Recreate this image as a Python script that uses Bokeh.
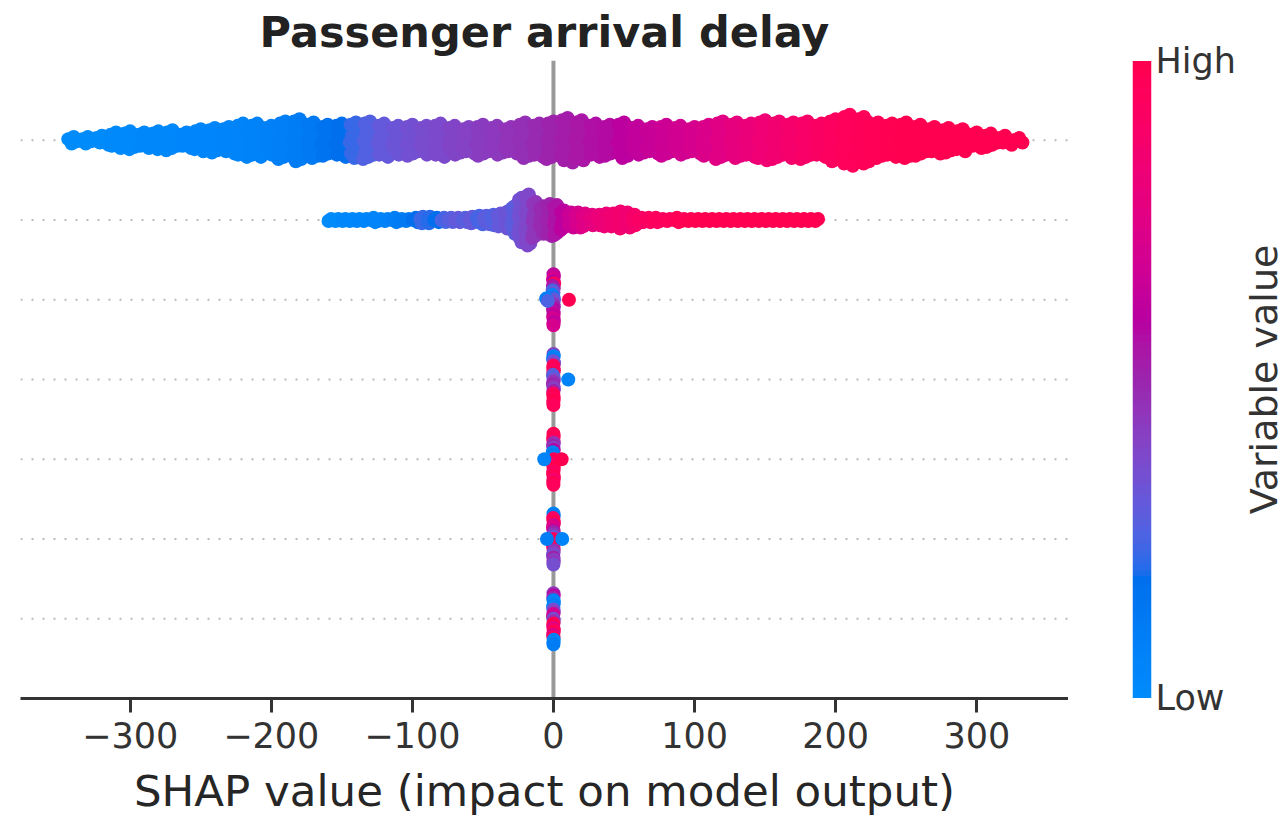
import numpy as np
from bokeh.plotting import figure
from bokeh.layouts import row
from bokeh.models import (ColumnDataSource, Range1d, Span, LinearColorMapper, FixedTicker)
from bokeh.embed import file_html
from bokeh.resources import INLINE

# ---------------- data ----------------
TITLE = "Passenger arrival delay"
X_LABEL = "SHAP value (impact on model output)"
CBAR_LABEL = "Variable value"
CBAR_TICK_LABELS = ["Low", "High"]
X_TICKS = [-300, -200, -100, 0, 100, 200, 300]

# Row 1 (top): counts of points per SHAP-value bin and mean feature value (0=low, 1=high)
row1_bin_start = -345
row1_bin_width = 10
row1_counts = [4, 4, 5, 8, 9, 8, 9, 10, 8, 11,
               12, 13, 16, 16, 14,
               18, 20, 17, 15, 16,
               17, 18, 16, 14, 15,
               14, 16, 14, 13, 15,
               14, 13, 17, 16, 18,
               21, 19, 16, 15, 17,
               14, 13, 15, 14, 13,
               15, 18, 17, 16, 19,
               18, 17, 18, 16, 20,
               24, 22, 17, 16, 17,
               15, 13, 12, 11, 8, 7, 5, 3]
row1_colors = [0.0, 0.0, 0.0, 0.01, 0.01, 0.02, 0.02, 0.02, 0.03, 0.03,
               0.03, 0.04, 0.05, 0.06, 0.07,
               0.08, 0.10, 0.12, 0.15, 0.18,
               0.22, 0.26, 0.30, 0.32, 0.34,
               0.36, 0.37, 0.39, 0.40, 0.42,
               0.43, 0.45, 0.46, 0.48, 0.50,
               0.52, 0.54, 0.56, 0.58, 0.60,
               0.62, 0.64, 0.66, 0.68, 0.70,
               0.72, 0.75, 0.78, 0.80, 0.83,
               0.85, 0.87, 0.89, 0.91, 0.93,
               0.95, 0.96, 0.97, 0.98, 0.99,
               1.0, 1.0, 1.0, 1.0, 1.0, 1.0, 1.0, 1.0]

# Row 2
row2_bin_start = -160
row2_bin_width = 5
row2_counts = [2, 2, 2, 2, 2, 2, 3, 2, 2, 3, 2, 2,
               3, 4, 4, 3, 3, 3,
               3, 3, 4, 5, 5, 6,
               7, 9,
               14, 22, 25, 18, 14, 16, 15, 10,
               8, 8,
               7, 6, 6, 7, 7,
               9, 8, 6,
               3, 3, 3, 2, 2, 3, 2, 2,
               2, 2, 2, 2, 2, 2, 2, 2, 2, 2, 2, 2, 2, 2, 2, 2, 2, 2]
row2_colors = [0.0, 0.0, 0.02, 0.02, 0.03, 0.03, 0.04, 0.05, 0.06, 0.08, 0.10, 0.12,
               0.18, 0.22, 0.20, 0.18, 0.24, 0.27,
               0.30, 0.27, 0.30, 0.24, 0.28, 0.26,
               0.30, 0.32,
               0.28, 0.34, 0.38, 0.44, 0.48, 0.50, 0.55, 0.60,
               0.65, 0.70,
               0.74, 0.77, 0.80, 0.82, 0.84,
               0.86, 0.84, 0.88,
               0.90, 0.92, 0.93, 0.94, 0.95, 0.96, 0.97, 0.98,
               0.99, 0.99, 1.0, 1.0, 1.0, 1.0, 1.0, 1.0, 1.0, 1.0, 1.0, 1.0, 1.0, 1.0, 1.0, 1.0, 1.0, 1.0]

# Rows 3-7: individual points (main column listed top to bottom, then outliers)
row3_x = [0.0, 0.3, -0.3, 0.0, 0.5, -0.4, 0.2, -0.6, 0.0, -0.8, 0.0, 0.4, -0.2,
          0.0, 0.3, -0.3, 0.0, 0.2, -0.2, 0.0, 0.3, 0.0, 0.0, 11.0, -5.2, -4.0]
row3_c = [0.60, 0.65, 0.70, 0.60, 0.95, 0.55, 0.50, 0.25, 0.30, 0.05, 0.20, 0.30, 0.35,
          0.45, 0.50, 0.60, 0.55, 0.65, 0.60, 0.70, 0.65, 0.60, 0.70, 1.0, 0.08, 0.25]

row4_x = [0.0, 0.2, -0.3, 0.0, 0.4, 0.0, -0.2, 0.3, 0.0, -0.4, 0.0, 0.2, 0.0,
          -0.3, 0.0, 0.3, 0.0, -0.2, 0.0, 0.2, 0.0, -0.1, 0.0, 10.5]
row4_c = [0.40, 0.05, 0.10, 0.30, 0.35, 0.95, 1.0, 0.90, 1.0, 0.30, 0.25, 0.35, 0.45,
          0.50, 0.45, 0.40, 0.50, 0.90, 1.0, 0.95, 1.0, 1.0, 0.95, 0.05]

row5_x = [0.0, 0.2, -0.2, 0.0, 0.3, -0.3, 0.0, 0.2, -0.5, 0.0, 0.0, 0.3, 0.0,
          -0.2, 0.0, 0.2, 0.0, -0.2, 0.0, 0.3, 0.0, -0.1, 0.0, -6.5, 5.8]
row5_c = [1.0, 0.95, 1.0, 0.90, 0.45, 0.50, 0.40, 0.60, 0.05, 0.10, 0.05, 0.95, 1.0,
          0.90, 0.95, 1.0, 0.95, 0.90, 1.0, 0.95, 0.85, 1.0, 0.95, 0.05, 1.0]

row6_x = [0.0, 0.2, -0.2, 0.0, 0.3, 0.0, -0.3, 0.0, 0.2, 0.0, -0.2, 0.0, 0.3,
          0.0, -0.2, 0.0, 0.2, 0.0, -0.3, 0.0, 0.2, 0.0, 0.0, 6.2, -4.6]
row6_c = [0.05, 0.10, 0.90, 0.95, 1.0, 0.70, 0.75, 0.65, 0.50, 0.45, 0.30, 0.95, 1.0,
          0.90, 1.0, 0.95, 0.45, 0.40, 0.35, 0.50, 0.40, 0.45, 0.35, 0.05, 0.10]

row7_x = [0.0, 0.2, -0.2, 0.0, 0.3, 0.0, -0.2, 0.0, 0.2, 0.0, -0.3, 0.0, 0.2,
          0.0, -0.2, 0.0, 0.3, 0.0, -0.2, 0.0, 0.2, 0.0, 0.0]
row7_c = [0.45, 0.60, 0.50, 0.05, 0.05, 0.10, 0.05, 0.35, 0.40, 0.70, 0.65, 0.35, 0.45,
          0.95, 1.0, 0.75, 0.90, 1.0, 0.70, 0.95, 0.05, 0.05, 0.10]
small_rows_bin_width = 2.5

# ---------------- colormap (SHAP red_blue, LCH interpolation) ----------------
def lch_to_hex(L, C, H):
    a = C * np.cos(H)
    b = C * np.sin(H)
    fy = (L + 16.0) / 116.0
    fx = fy + a / 500.0
    fz = fy - b / 200.0
    d = 6.0 / 29.0
    finv = lambda t: np.where(t > d, t ** 3, 3 * d * d * (t - 4.0 / 29.0))
    X = 0.95047 * finv(fx)
    Y = 1.0 * finv(fy)
    Z = 1.08883 * finv(fz)
    r = 3.2406 * X - 1.5372 * Y - 0.4986 * Z
    g = -0.9689 * X + 1.8758 * Y + 0.0415 * Z
    bb = 0.0557 * X - 0.2040 * Y + 1.0570 * Z
    out = []
    for ch in (r, g, bb):
        ch = np.clip(ch, 0, 1)
        ch = np.where(ch > 0.0031308, 1.055 * ch ** (1 / 2.4) - 0.055, 12.92 * ch)
        out.append(int(round(float(np.clip(ch, 0, 1)) * 255)))
    return "#%02x%02x%02x" % tuple(out)

blue_lch = [54.0, 70.0, 4.6588]
red_lch = [54.0, 90.0, 0.35470565 + 2 * np.pi]
l_mid = 40.0
nsteps = 100
l_vals = list(np.linspace(blue_lch[0], l_mid, nsteps // 2)) + list(np.linspace(l_mid, red_lch[0], nsteps // 2))
c_vals = np.linspace(blue_lch[1], red_lch[1], nsteps)
h_vals = np.linspace(blue_lch[2], red_lch[2], nsteps)
palette = [lch_to_hex(l, c, h) for l, c, h in zip(l_vals, c_vals, h_vals)]
mapper = LinearColorMapper(palette=palette, low=0, high=1)

# ---------------- beeswarm layout ----------------
def hist_points(start, width, counts, colors):
    xs, cs, bins = [], [], []
    for i, (n, c) in enumerate(zip(counts, colors)):
        left = start + i * width
        for j in range(n):
            xs.append(left + ((0.5 + j * 0.618034) % 1.0) * width)
            cs.append(c)
            bins.append(i)
    return xs, cs, bins

def list_points(xs, cs, width):
    return list(xs), list(cs), [int(round(x / width)) for x in xs]

def swarm_y(bins, row_y, spread=0.32):
    bins = np.asarray(bins)
    offs = np.zeros(len(bins))
    half_max = 0.0
    for b in np.unique(bins):
        idx = np.where(bins == b)[0]
        n = len(idx)
        offs[idx] = (n - 1) / 2.0 - np.arange(n)
        half_max = max(half_max, (n - 1) / 2.0)
    scale = spread / half_max if half_max > 0 else 0.0
    return list(row_y + offs * scale)

rows = [
    hist_points(row1_bin_start, row1_bin_width, row1_counts, row1_colors),
    hist_points(row2_bin_start, row2_bin_width, row2_counts, row2_colors),
    list_points(row3_x, row3_c, small_rows_bin_width),
    list_points(row4_x, row4_c, small_rows_bin_width),
    list_points(row5_x, row5_c, small_rows_bin_width),
    list_points(row6_x, row6_c, small_rows_bin_width),
    list_points(row7_x, row7_c, small_rows_bin_width),
]
n_rows = len(rows)
all_x, all_y, all_c = [], [], []
for k, (xs, cs, bins) in enumerate(rows):
    ry = n_rows - 1 - k
    all_x += xs
    all_c += cs
    all_y += swarm_y(bins, ry)

source = ColumnDataSource(dict(x=all_x, y=all_y, c=all_c))

# ---------------- main figure ----------------
FONT = "DejaVu Sans"
TOP, FRAME_H, BOTTOM = 60, 638, 119
p = figure(frame_width=1048, frame_height=FRAME_H,
           x_range=Range1d(-377.7, 365.0), y_range=Range1d(-1, n_rows),
           output_backend="svg", toolbar_location=None, y_axis_location=None,
           min_border_left=20, min_border_right=0, min_border_top=TOP, min_border_bottom=BOTTOM,
           background_fill_color="white", border_fill_color="white")
p.outline_line_color = None
p.xgrid.visible = False
p.ygrid.visible = False

p.title.text = TITLE
p.title.align = "center"
p.title.text_font = FONT
p.title.text_font_size = "43px"
p.title.text_font_style = "bold"
p.title.text_color = "#222222"
p.title.standoff = 8

for k in range(n_rows):
    p.add_layout(Span(location=k, dimension="width", line_color="#bbbbbb", line_width=2,
                      line_dash="2 9", level="underlay"))
p.add_layout(Span(location=0, dimension="height", line_color="#999999", line_width=4,
                  level="underlay"))

p.scatter("x", "y", source=source, size=14, line_color=None,
          fill_color={"field": "c", "transform": mapper})

ax = p.xaxis[0]
ax.ticker = FixedTicker(ticks=X_TICKS)
ax.major_label_overrides = {t: str(t).replace("-", "\u2212") for t in X_TICKS}
ax.minor_tick_line_color = None
ax.axis_line_color = "#333333"
ax.axis_line_width = 3
ax.major_tick_line_color = "#333333"
ax.major_tick_line_width = 3
ax.major_tick_out = 14
ax.major_tick_in = 0
ax.major_label_text_font = FONT
ax.major_label_text_font_size = "35px"
ax.major_label_text_color = "#333333"
ax.major_label_standoff = 9
ax.axis_label = X_LABEL
ax.axis_label_text_font = FONT
ax.axis_label_text_font_size = "43.5px"
ax.axis_label_text_font_style = "normal"
ax.axis_label_text_color = "#262626"
ax.axis_label_standoff = 15

# ---------------- colour bar (second plot, same vertical frame) ----------------
half_px = 0.5 / (FRAME_H - 1)
cb = figure(frame_width=19, frame_height=FRAME_H,
            x_range=Range1d(0, 1), y_range=Range1d(-half_px, 1 + half_px),
            output_backend="svg", toolbar_location=None,
            x_axis_location=None, y_axis_location="right",
            min_border_left=64, min_border_right=0, min_border_top=TOP, min_border_bottom=BOTTOM,
            background_fill_color="white", border_fill_color="white")
cb.outline_line_color = None
cb.xgrid.visible = False
cb.ygrid.visible = False

bar_values = np.linspace(0, 1, 256).reshape(-1, 1)
cb.image(image=[bar_values], x=0, y=0, dw=1, dh=1, color_mapper=mapper)

cax = cb.yaxis[0]
cax.ticker = FixedTicker(ticks=[0, 1])
cax.major_label_overrides = {0: CBAR_TICK_LABELS[0], 1: CBAR_TICK_LABELS[1]}
cax.axis_line_color = None
cax.major_tick_line_color = None
cax.minor_tick_line_color = None
cax.major_tick_out = 0
cax.major_tick_in = 0
cax.major_label_standoff = 4
cax.major_label_text_font = FONT
cax.major_label_text_font_size = "35px"
cax.major_label_text_color = "#333333"

# ---------------- colour bar title: left axis label of a thin third plot ----------------
lab = figure(frame_width=2, frame_height=FRAME_H,
             x_range=Range1d(0, 1), y_range=Range1d(0, 1),
             output_backend="svg", toolbar_location=None,
             x_axis_location=None, y_axis_location="left",
             min_border_left=0, min_border_right=0, min_border_top=TOP, min_border_bottom=BOTTOM,
             background_fill_color="white", border_fill_color="white")
lab.outline_line_color = None
lab.xgrid.visible = False
lab.ygrid.visible = False
lax = lab.yaxis[0]
lax.ticker = FixedTicker(ticks=[])
lax.axis_line_color = None
lax.major_tick_line_color = None
lax.minor_tick_line_color = None
lax.major_tick_out = 0
lax.major_tick_in = 0
lax.major_label_standoff = 0
lax.axis_label = CBAR_LABEL
lax.axis_label_text_font = FONT
lax.axis_label_text_font_size = "38px"
lax.axis_label_text_font_style = "normal"
lax.axis_label_text_color = "#333333"
lax.axis_label_standoff = 0

layout = row(p, cb, lab, spacing=0)
open("out.html", "w").write(file_html(layout, INLINE))
